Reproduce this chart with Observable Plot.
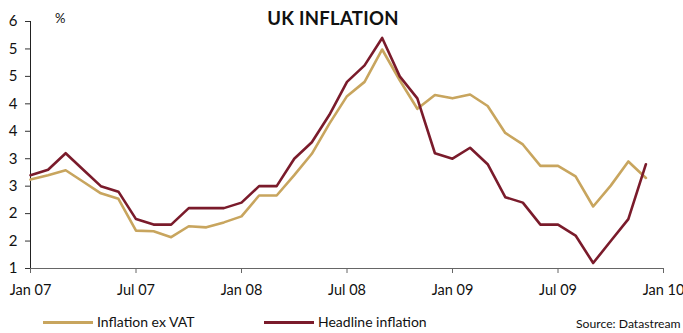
<!DOCTYPE html>
<html>
<head>
<meta charset="utf-8">
<script src="https://cdn.jsdelivr.net/npm/d3@7"></script>
<script src="https://cdn.jsdelivr.net/npm/@observablehq/plot@0.6"></script>
<style>
  body { margin: 0; background: #fff; }
  #chart { position: relative; width: 683px; height: 333px; overflow: hidden; font-family: Lato, "Open Sans", sans-serif; color: #111; }
  #chart svg { position: absolute; left: 0; top: 0; }
  .title { position: absolute; top: 7px; left: 0; width: 666px; text-align: center; font-weight: bold; font-size: 18.5px; line-height: 22px; letter-spacing: 0.3px; }
  .unit { position: absolute; top: 10px; left: 55px; font-size: 13px; line-height: 16px; }
  .legend { position: absolute; top: 313px; font-size: 14px; line-height: 18px; display: flex; align-items: center; white-space: nowrap; }
  .legend .swatch { display: inline-block; width: 50px; height: 3px; margin-right: 4px; }
  .source { position: absolute; top: 316px; left: 576px; font-size: 12.2px; line-height: 16px; white-space: nowrap; }
</style>
</head>
<body>
<div id="chart">
  <div class="title">UK INFLATION</div>
  <div class="unit">%</div>
</div>
<script>
// Monthly annual CPI inflation, Jan 2007 – Dec 2009 (%)
const headline = [
  2.7, 2.8, 3.1, 2.8, 2.5, 2.4, 1.9, 1.8, 1.8, 2.1, 2.1, 2.1,
  2.2, 2.5, 2.5, 3.0, 3.3, 3.8, 4.4, 4.7, 5.2, 4.5, 4.1, 3.1,
  3.0, 3.2, 2.9, 2.3, 2.2, 1.8, 1.8, 1.6, 1.1, 1.5, 1.9, 2.9
];
const exVat = [
  2.62, 2.70, 2.79, 2.58, 2.37, 2.27, 1.69, 1.68, 1.57, 1.77, 1.75, 1.84,
  1.95, 2.33, 2.33, 2.70, 3.09, 3.64, 4.14, 4.40, 4.99, 4.43, 3.91, 4.16,
  4.10, 4.17, 3.96, 3.47, 3.26, 2.87, 2.87, 2.68, 2.13, 2.51, 2.95, 2.65
];
const seriesNames = ["Inflation ex VAT", "Headline inflation"];
const seriesColors = ["#c8a55e", "#7a1b2b"];

// x axis: months since Jan 2007, labelled every six months
const xTicks = [0, 6, 12, 18, 24, 30, 36];
const xTickLabels = ["Jan 07", "Jul 07", "Jan 08", "Jul 08", "Jan 09", "Jul 09", "Jan 10"];
// y axis: ticks every half point, labels shown with no decimals
const yTicks = [1, 1.5, 2, 2.5, 3, 3.5, 4, 4.5, 5, 5.5];
const yTickLabels = ["1", "2", "2", "3", "3", "4", "4", "5", "5", "6"];

const chart = Plot.plot({
  width: 683,
  height: 300,
  marginLeft: 30,
  marginRight: 20,
  marginTop: 21,
  marginBottom: 32,
  style: { fontFamily: "Lato, 'Open Sans', sans-serif", fontSize: "14px", color: "#111", background: "transparent", overflow: "visible" },
  x: { type: "linear", domain: [0, 36] },
  y: { type: "linear", domain: [1, 5.5] },
  marks: [
    Plot.axisX({ ticks: xTicks, tickFormat: (d) => xTickLabels[xTicks.indexOf(d)], tickSize: 5, tickPadding: 11, stroke: "#666", fontSize: 14.5, label: null }),
    Plot.axisY({ ticks: yTicks, tickFormat: (d) => yTickLabels[yTicks.indexOf(d)], tickSize: 5, tickPadding: 8, stroke: "#333", fontSize: 15, label: null }),
    Plot.ruleY([1], { stroke: "#666", strokeWidth: 1 }),
    Plot.ruleX([0], { stroke: "#222", strokeWidth: 1 }),
    Plot.lineY(exVat, { x: (d, i) => i, y: (d) => d, stroke: seriesColors[0], strokeWidth: 2.6 }),
    Plot.lineY(headline, { x: (d, i) => i, y: (d) => d, stroke: seriesColors[1], strokeWidth: 2.6 })
  ]
});
const root = document.getElementById("chart");
root.insertBefore(chart, root.firstChild);

// Legend below the plot
const legendLefts = [43, 264];
seriesNames.forEach((name, i) => {
  const item = document.createElement("div");
  item.className = "legend";
  item.style.left = legendLefts[i] + "px";
  const sw = document.createElement("span");
  sw.className = "swatch";
  sw.style.background = seriesColors[i];
  item.appendChild(sw);
  item.appendChild(document.createTextNode(name));
  root.appendChild(item);
});
const src = document.createElement("div");
src.className = "source";
src.textContent = "Source: Datastream";
root.appendChild(src);
</script>
</body>
</html>
